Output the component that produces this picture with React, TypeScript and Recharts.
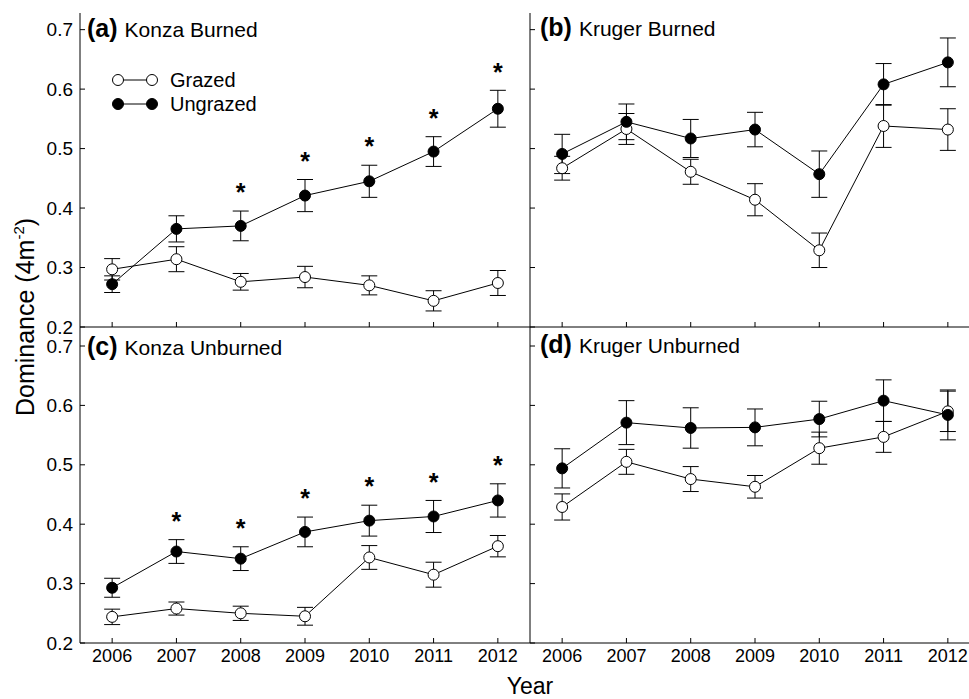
import { ComposedChart, Line, XAxis, YAxis, ErrorBar } from 'recharts';

const years = [2006, 2007, 2008, 2009, 2010, 2011, 2012];
const yTicks = [0.2, 0.3, 0.4, 0.5, 0.6, 0.7];

// (a) Konza Burned
const konzaBurnedGrazed = [0.297, 0.314, 0.276, 0.284, 0.27, 0.244, 0.274];
const konzaBurnedGrazedSe = [0.018, 0.021, 0.014, 0.018, 0.016, 0.017, 0.021];
const konzaBurnedUngrazed = [0.272, 0.365, 0.37, 0.421, 0.445, 0.495, 0.567];
const konzaBurnedUngrazedSe = [0.014, 0.022, 0.025, 0.027, 0.027, 0.025, 0.031];
const konzaBurnedSig = [false, false, true, true, true, true, true];

// (b) Kruger Burned
const krugerBurnedGrazed = [0.467, 0.533, 0.461, 0.414, 0.329, 0.538, 0.532];
const krugerBurnedGrazedSe = [0.02, 0.026, 0.021, 0.027, 0.029, 0.036, 0.035];
const krugerBurnedUngrazed = [0.491, 0.545, 0.517, 0.532, 0.457, 0.608, 0.645];
const krugerBurnedUngrazedSe = [0.033, 0.03, 0.032, 0.029, 0.039, 0.035, 0.041];
const krugerBurnedSig = [false, false, false, false, false, false, false];

// (c) Konza Unburned
const konzaUnburnedGrazed = [0.244, 0.258, 0.25, 0.245, 0.344, 0.315, 0.363];
const konzaUnburnedGrazedSe = [0.013, 0.011, 0.012, 0.015, 0.02, 0.021, 0.018];
const konzaUnburnedUngrazed = [0.293, 0.354, 0.342, 0.387, 0.406, 0.413, 0.44];
const konzaUnburnedUngrazedSe = [0.016, 0.02, 0.02, 0.025, 0.026, 0.027, 0.028];
const konzaUnburnedSig = [false, true, true, true, true, true, true];

// (d) Kruger Unburned
const krugerUnburnedGrazed = [0.429, 0.505, 0.476, 0.463, 0.528, 0.547, 0.59];
const krugerUnburnedGrazedSe = [0.022, 0.021, 0.021, 0.019, 0.027, 0.026, 0.034];
const krugerUnburnedUngrazed = [0.494, 0.571, 0.562, 0.563, 0.577, 0.608, 0.584];
const krugerUnburnedUngrazedSe = [0.033, 0.037, 0.034, 0.031, 0.03, 0.035, 0.042];
const krugerUnburnedSig = [false, false, false, false, false, false, false];

const FONT = '"Liberation Sans", Arial, Helvetica, sans-serif';

function rows(g: number[], gSe: number[], u: number[], uSe: number[], sig: boolean[]) {
  return years.map((year, i) => ({
    year,
    g: g[i],
    gSe: gSe[i],
    u: u[i],
    uSe: uSe[i],
    // asterisk sits a little above the ungrazed error bar
    star: sig[i] ? u[i] + uSe[i] + 0.04 : null,
  }));
}

const makeYTick = (showLabel: boolean) => (props: any) => {
  const { x, y, payload } = props;
  return (
    <g>
      <line x1={x} x2={x + 5} y1={y} y2={y} stroke="#000" strokeWidth={1} />
      {showLabel && (
        <text x={x - 7} y={y} textAnchor="end" dominantBaseline="central" fontSize={19} fontFamily={FONT} fill="#000">
          {payload.value.toFixed(1)}
        </text>
      )}
    </g>
  );
};

const makeXTick = (showLabel: boolean) => (props: any) => {
  const { x, y, payload } = props;
  return (
    <g>
      <line x1={x} x2={x} y1={y} y2={y - 5} stroke="#000" strokeWidth={1} />
      {showLabel && (
        <text x={x} y={y + 19} textAnchor="middle" fontSize={18} fontFamily={FONT} fill="#000">
          {payload.value}
        </text>
      )}
    </g>
  );
};

const renderStar = (props: any) => {
  const { cx, cy, index } = props;
  if (cy == null || cx == null || Number.isNaN(cy)) return <g key={`s${index}`} />;
  return (
    <text key={`s${index}`} x={cx} y={cy + 14} textAnchor="middle" fontSize={25} fontWeight="bold" fontFamily={FONT} fill="#000">
      *
    </text>
  );
};

type PanelProps = {
  data: ReturnType<typeof rows>;
  left: number;
  top: number;
  width: number;
  height: number;
  marginTop: number;
  yAxisWidth: number;
  xAxisHeight: number;
  yDomain: [number, number];
  yLabels: boolean;
  xLabels: boolean;
};

function Panel(p: PanelProps) {
  return (
    <div style={{ position: 'absolute', left: p.left, top: p.top, width: p.width, height: p.height }}>
      <ComposedChart width={p.width} height={p.height} data={p.data} margin={{ top: p.marginTop, right: 0, bottom: 0, left: 0 }}>
        <XAxis
          dataKey="year"
          type="number"
          domain={[2005.5, 2012.5]}
          ticks={years}
          interval={0}
          height={p.xAxisHeight}
          tickSize={0}
          tickMargin={0}
          tickLine={false}
          tick={makeXTick(p.xLabels)}
          axisLine={{ stroke: '#000', strokeWidth: 1 }}
        />
        <YAxis
          type="number"
          domain={p.yDomain}
          ticks={yTicks}
          interval={0}
          width={p.yAxisWidth}
          allowDataOverflow
          tickSize={0}
          tickMargin={0}
          tickLine={false}
          tick={makeYTick(p.yLabels)}
          axisLine={{ stroke: '#000', strokeWidth: 1 }}
        />
        <Line
          type="linear"
          dataKey="g"
          stroke="#000"
          strokeWidth={1}
          dot={{ r: 5.5, fill: '#fff', stroke: '#000', strokeWidth: 1 }}
          activeDot={false}
          isAnimationActive={false}
        >
          <ErrorBar dataKey="gSe" width={8} stroke="#000" strokeWidth={1} direction="y" />
        </Line>
        <Line
          type="linear"
          dataKey="u"
          stroke="#000"
          strokeWidth={1}
          dot={{ r: 5.5, fill: '#000', stroke: '#000', strokeWidth: 1 }}
          activeDot={false}
          isAnimationActive={false}
        >
          <ErrorBar dataKey="uSe" width={8} stroke="#000" strokeWidth={1} direction="y" />
        </Line>
        <Line dataKey="star" stroke="none" dot={renderStar} activeDot={false} isAnimationActive={false} />
      </ComposedChart>
    </div>
  );
}

const dataA = rows(konzaBurnedGrazed, konzaBurnedGrazedSe, konzaBurnedUngrazed, konzaBurnedUngrazedSe, konzaBurnedSig);
const dataB = rows(krugerBurnedGrazed, krugerBurnedGrazedSe, krugerBurnedUngrazed, krugerBurnedUngrazedSe, krugerBurnedSig);
const dataC = rows(konzaUnburnedGrazed, konzaUnburnedGrazedSe, konzaUnburnedUngrazed, konzaUnburnedUngrazedSe, konzaUnburnedSig);
const dataD = rows(krugerUnburnedGrazed, krugerUnburnedGrazedSe, krugerUnburnedUngrazed, krugerUnburnedUngrazedSe, krugerUnburnedSig);

function PanelTitle({ x, y, tag, name }: { x: number; y: number; tag: string; name: string }) {
  return (
    <text x={x} y={y} fontFamily={FONT} fill="#000">
      <tspan fontSize={25} fontWeight="bold">{tag}</tspan>
      <tspan fontSize={21} dx={7}>{name}</tspan>
    </text>
  );
}

export default function App() {
  return (
    <div style={{ position: 'fixed', left: 0, top: 0, width: 969, height: 699, overflow: 'hidden', background: '#fff', fontFamily: FONT }}>
      <Panel data={dataA} left={0} top={0} width={530} height={340} marginTop={13} yAxisWidth={80} xAxisHeight={13} yDomain={[0.2, 0.728]} yLabels xLabels={false} />
      <Panel data={dataB} left={519} top={0} width={461} height={340} marginTop={13} yAxisWidth={11} xAxisHeight={13} yDomain={[0.2, 0.728]} yLabels={false} xLabels={false} />
      <Panel data={dataC} left={0} top={320} width={530} height={379} marginTop={7} yAxisWidth={80} xAxisHeight={56} yDomain={[0.2, 0.732]} yLabels xLabels />
      <Panel data={dataD} left={519} top={320} width={461} height={379} marginTop={7} yAxisWidth={11} xAxisHeight={56} yDomain={[0.2, 0.732]} yLabels={false} xLabels />

      <svg width={969} height={699} style={{ position: 'absolute', left: 0, top: 0, pointerEvents: 'none' }}>
        <PanelTitle x={87} y={37} tag="(a)" name="Konza Burned" />
        <PanelTitle x={540} y={36} tag="(b)" name="Kruger Burned" />
        <PanelTitle x={87} y={355} tag="(c)" name="Konza Unburned" />
        <PanelTitle x={540} y={353} tag="(d)" name="Kruger Unburned" />

        {/* legend */}
        <line x1={118} x2={152} y1={80} y2={80} stroke="#000" strokeWidth={1} />
        <circle cx={118} cy={80} r={5.5} fill="#fff" stroke="#000" />
        <circle cx={152} cy={80} r={5.5} fill="#fff" stroke="#000" />
        <text x={170} y={87} fontSize={20} fontFamily={FONT} fill="#000">Grazed</text>
        <line x1={118} x2={152} y1={104} y2={104} stroke="#000" strokeWidth={1} />
        <circle cx={118} cy={104} r={5.5} fill="#000" stroke="#000" />
        <circle cx={152} cy={104} r={5.5} fill="#000" stroke="#000" />
        <text x={170} y={111} fontSize={20} fontFamily={FONT} fill="#000">Ungrazed</text>

        {/* axis titles */}
        <text x={34} y={317} transform="rotate(-90 34 317)" textAnchor="middle" fontSize={25} fontFamily={FONT} fill="#000">
          Dominance (4m<tspan fontSize={15} dy={-10}>-2</tspan><tspan dy={10}>)</tspan>
        </text>
        <text x={530} y={694} textAnchor="middle" fontSize={23} fontFamily={FONT} fill="#000">Year</text>
      </svg>
    </div>
  );
}
